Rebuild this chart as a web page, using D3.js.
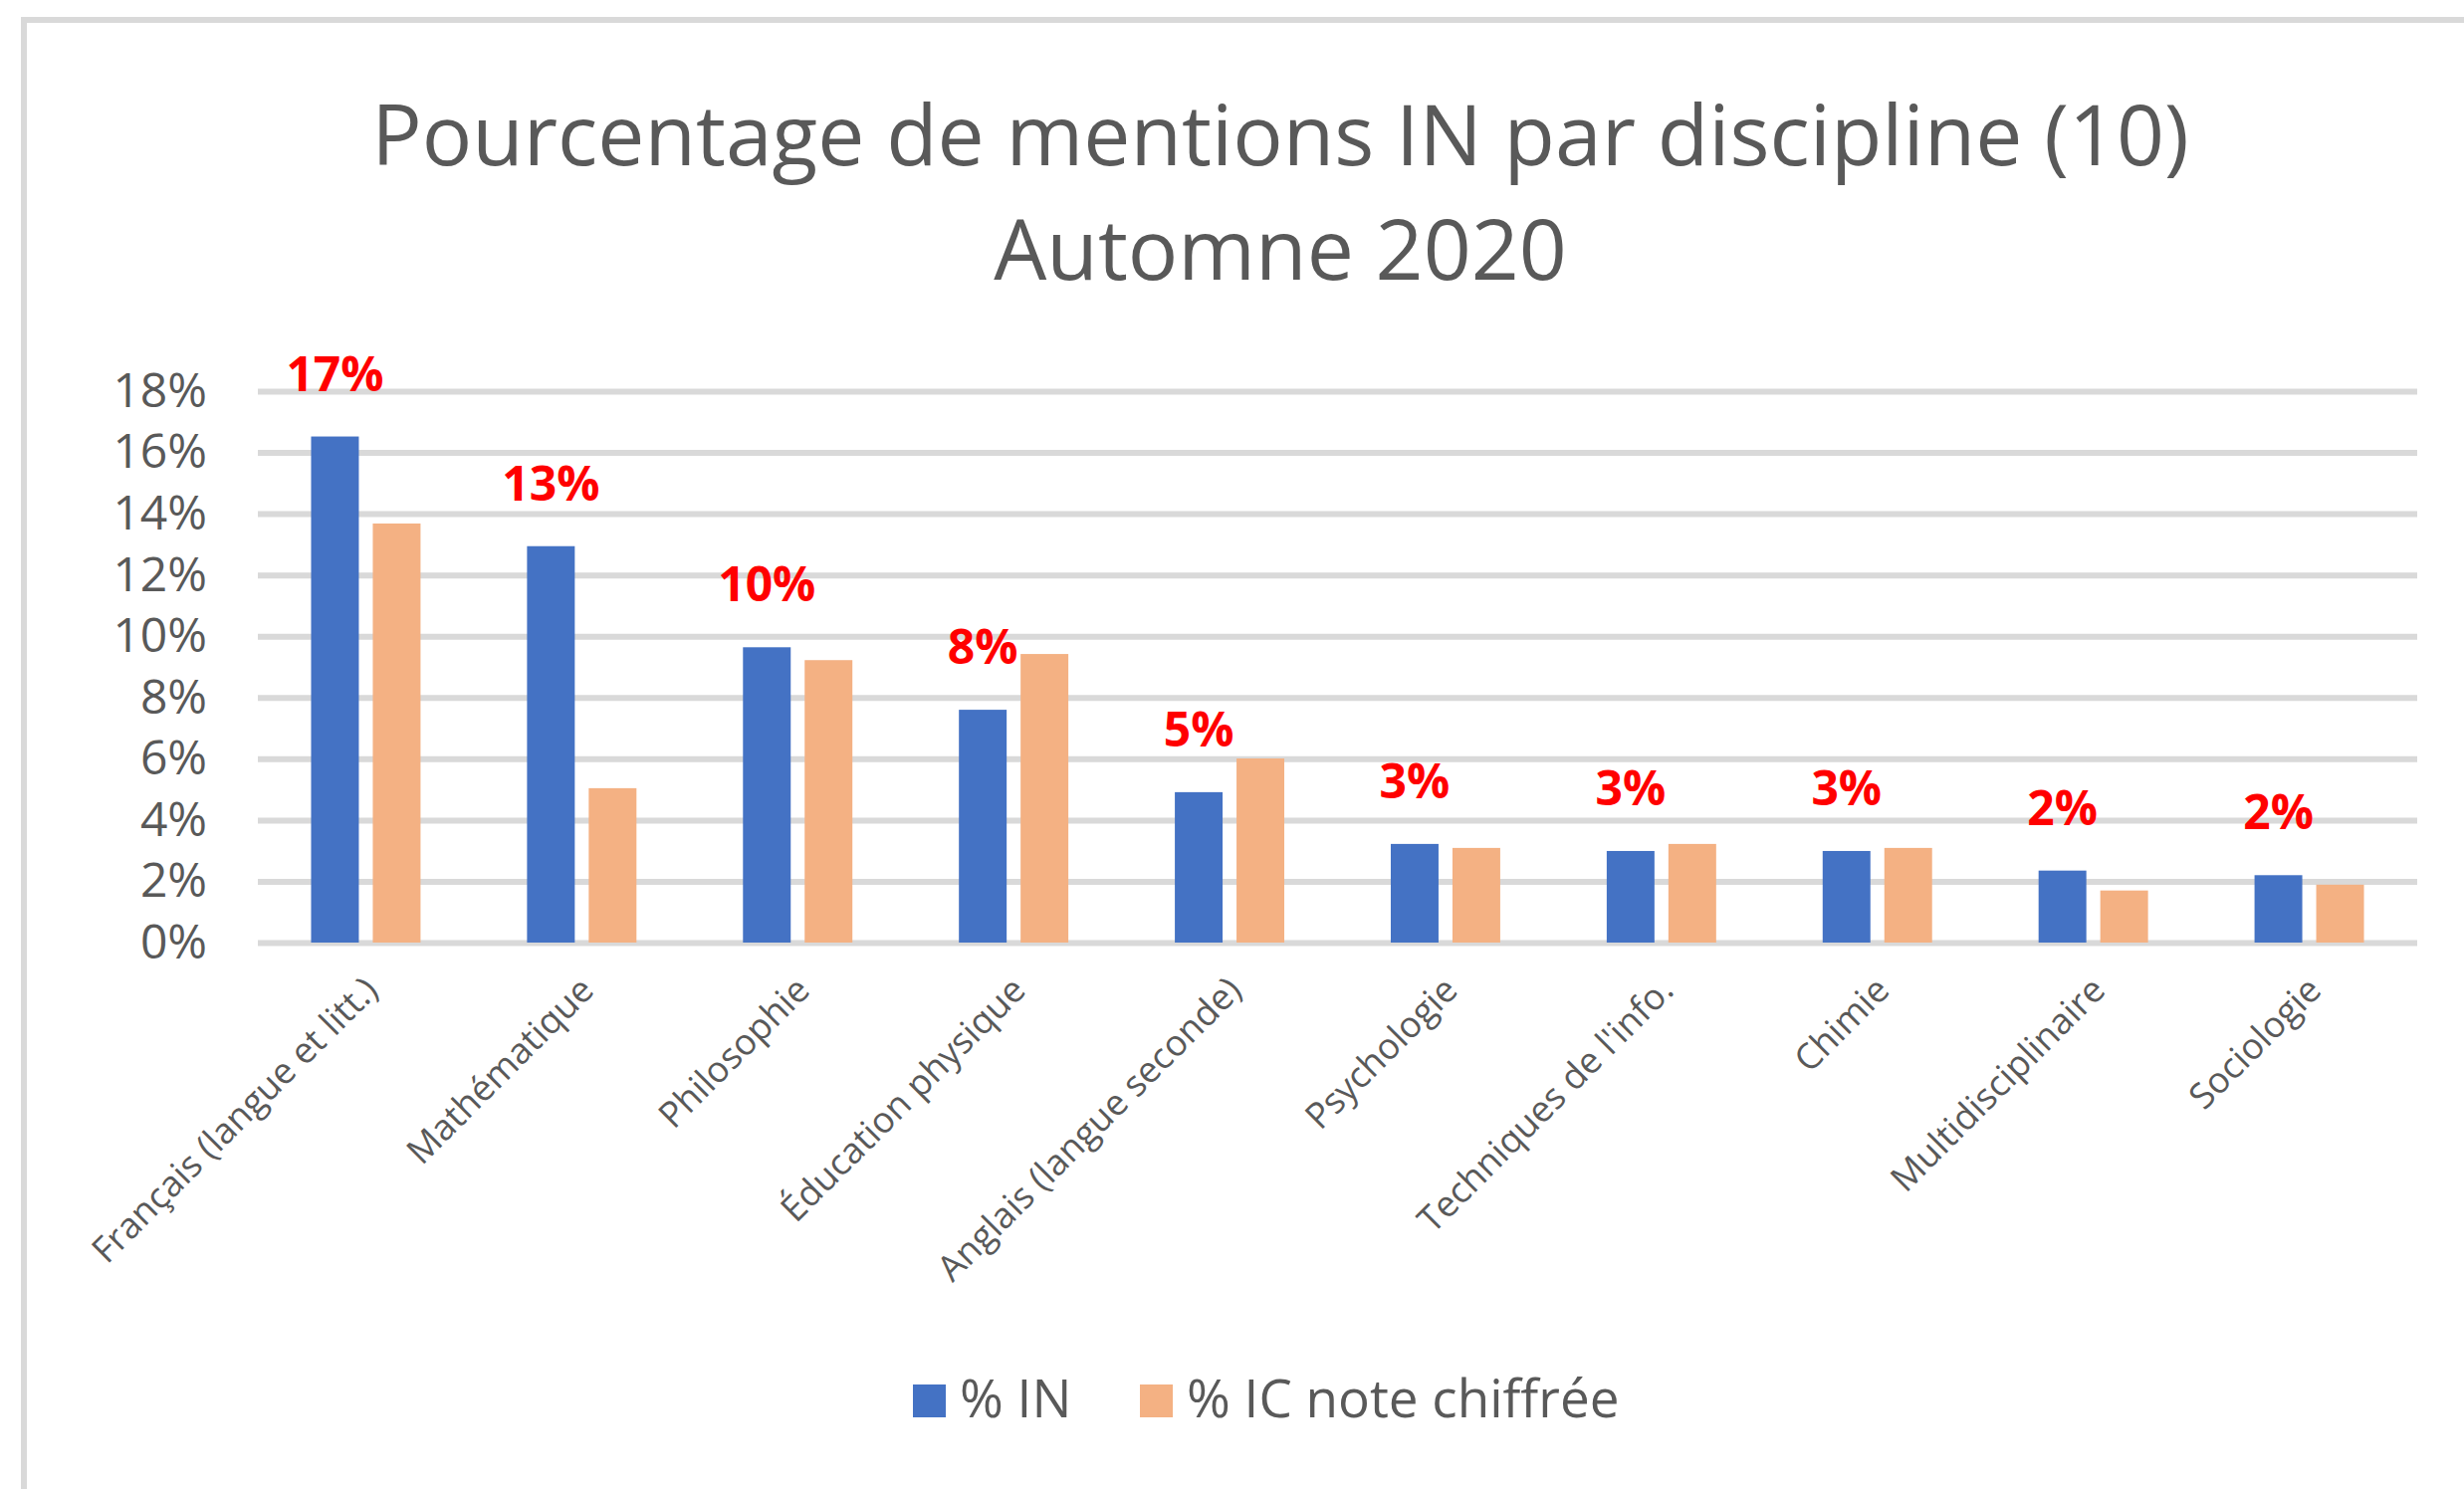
<!DOCTYPE html>
<html>
<head>
<meta charset="utf-8">
<script src="https://cdn.jsdelivr.net/npm/d3@7"></script>
<style>
  body { margin: 0; background: #fff; }
  svg { display: block; }
</style>
</head>
<body>
<div id="chart"></div>
<script>
// disciplines and the two series (values in %)
var disciplines = ["Français (langue et litt.)", "Mathématique", "Philosophie", "Éducation physique", "Anglais (langue seconde)",
  "Psychologie", "Techniques de l'info.", "Chimie", "Multidisciplinaire", "Sociologie"]
var seriesNames = ["% IN", "% IC note chiffrée"]
var pctIN = [16.52, 12.94, 9.64, 7.6, 4.91, 3.22, 2.99, 2.99, 2.35, 2.2]
var pctIC = [13.68, 5.04, 9.22, 9.42, 6.01, 3.09, 3.22, 3.09, 1.7, 1.89]
var yTicks = [0, 2, 4, 6, 8, 10, 12, 14, 16, 18]
var titleLines = ["Pourcentage de mentions IN par discipline (10)", "Automne 2020"]

const W = 2475, H = 1496
const plot = {left: 259, right: 2428, top: 393, bottom: 947}
var colors = ["#4472C4", "#F4B183"]
var gray = "#595959"

var svg = d3.select("#chart").append("svg").attr("width", W).attr("height", H)

// chart area border (only the top and left edges show in the picture)
svg.append("rect").attr("x", 24).attr("y", 20).attr("width", W).attr("height", H)
  .attr("fill", "#fff").attr("stroke", "#d9d9d9").attr("stroke-width", 6)

// title
svg.selectAll("text.title").data(titleLines).enter().append("text")
  .attr("class", "title")
  .attr("x", 1286).attr("y", (d, i) => 166 + i * 115)
  .attr("text-anchor", "middle")
  .style("font-family", "'Open Sans'").style("font-size", "84px").style("fill", gray)
  .text(d => d)

var x0 = d3.scaleBand().domain(disciplines).range([plot.left, plot.right]).padding(0)
var x1 = d3.scaleBand().domain(seriesNames).range([0, x0.bandwidth()]).paddingInner(0.226).paddingOuter(0.863)
var y = d3.scaleLinear().domain([0, 18]).range([plot.bottom, plot.top])

// gridlines
var yAxis = d3.axisLeft(y).tickValues(yTicks).tickFormat(d => d + "%").tickSize(-(plot.right - plot.left)).tickPadding(51)
var gy = svg.append("g").attr("transform", "translate(" + plot.left + ",0)").call(yAxis)
gy.select(".domain").remove()
gy.selectAll(".tick line").attr("stroke", "#d9d9d9").attr("stroke-width", 6)
gy.selectAll(".tick text").style("font-family", "'Open Sans'").style("font-size", "48px").style("fill", gray)

// bars
var rows = disciplines.map((d, i) => ({name: d, values: [pctIN[i], pctIC[i]]}))
var groups = svg.selectAll("g.cat").data(rows).enter().append("g")
  .attr("class", "cat").attr("transform", d => "translate(" + x0(d.name) + ",0)")
groups.selectAll("rect").data(d => d.values.map((v, j) => ({key: seriesNames[j], v: v, j: j}))).enter().append("rect")
  .attr("x", d => x1(d.key)).attr("width", x1.bandwidth())
  .attr("y", d => y(d.v)).attr("height", d => y(0) - y(d.v))
  .attr("fill", d => colors[d.j])

// red labels above the % IN bars
groups.append("text")
  .attr("x", x1(seriesNames[0]) + x1.bandwidth() / 2)
  .attr("y", d => y(d.values[0]) - 46)
  .attr("text-anchor", "middle")
  .style("font-family", "'Open Sans'").style("font-weight", "bold").style("font-size", "48px").style("fill", "#ff0000")
  .text(d => d3.format(".0f")(d.values[0]) + "%")

// category labels
svg.selectAll("text.cat").data(disciplines).enter().append("text")
  .attr("class", "cat")
  .attr("transform", d => "translate(" + (x0(d) + x0.bandwidth() / 2 + 14) + "," + (plot.bottom + 50) + ") rotate(-45)")
  .attr("text-anchor", "end")
  .style("font-family", "'Open Sans'").style("font-size", "36px").style("fill", gray)
  .text(d => d)

// legend
var legend = svg.append("g").attr("transform", "translate(917,1391)")
var lx = [0, 228]
seriesNames.forEach(function (s, i) {
  legend.append("rect").attr("x", lx[i]).attr("y", 0).attr("width", 33).attr("height", 33).attr("fill", colors[i])
  legend.append("text").attr("x", lx[i] + 47).attr("y", 33)
    .style("font-family", "'Open Sans'").style("font-size", "53px").style("fill", gray).text(s)
})
</script>
</body>
</html>
